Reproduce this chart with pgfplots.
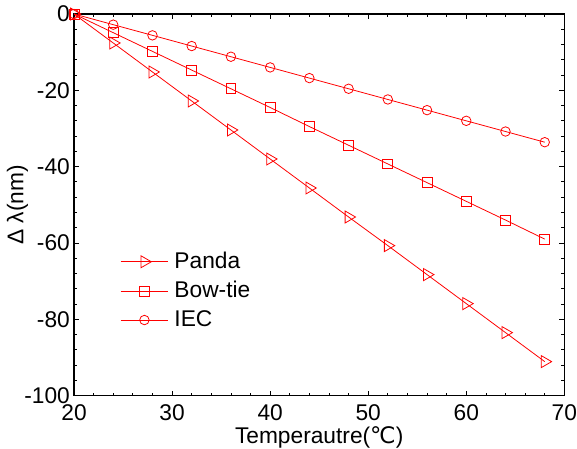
\documentclass[border=0pt]{standalone}
\usepackage{pgfplots}
\pgfplotsset{compat=1.18}
\usepackage{fontspec}
\setmainfont{Liberation Sans}
\newfontfamily\dejavu{DejaVu Sans}
\begin{document}
\fontsize{23bp}{27bp}\selectfont
\begin{tikzpicture}[x=1bp,y=1bp]
\begin{axis}[
  scale only axis,
  width=496bp, height=386bp,
  xmin=20, xmax=70, ymin=-100, ymax=0,
  xtick={20,30,...,70}, ytick={-100,-80,...,0},
  minor x tick num=4, minor y tick num=4,
  tick align=inside,
  major tick length=5bp, minor tick length=3bp,
  axis line style={line width=1.3bp},
  every tick/.style={black, line width=0.8bp},
  /pgf/number format/assume math mode=true,
  tick label style={font=\fontsize{23bp}{27bp}\selectfont},
  yticklabel style={inner xsep=0bp, inner ysep=6bp, xshift=-4bp},
  xticklabel style={inner sep=0bp, yshift=-9bp},
  label style={font=\fontsize{23bp}{27bp}\selectfont},
  xlabel={Temperautre({\dejavu ℃})},
  ylabel={Δ λ(nm)},
  xlabel style={inner sep=0bp, yshift=-6bp},
  ylabel style={inner xsep=0bp, inner ysep=7bp, yshift=-11bp},
  legend style={at={(axis cs:24.4,-61.5)}, anchor=north west, draw=none, fill=none,
    font=\fontsize{23bp}{27bp}\selectfont, row sep=7.5bp, nodes={inner xsep=6bp, inner ysep=1bp}},
  legend cell align=left,
  legend image code/.code={
    \draw[mark repeat=2,mark phase=2] plot coordinates {(0bp,0bp) (24bp,0bp) (48bp,0bp)};
  },
  every axis plot/.append style={red, line width=0.8bp, mark options={solid, line width=0.8bp}},
]
\addplot[red, mark=triangle, mark size=7bp, mark options={rotate=-90}] coordinates {
(20,0) (24,-7.6) (28,-15.2) (32,-22.8) (36,-30.4) (40,-38.0) (44,-45.6) (48,-53.2) (52,-60.7) (56,-68.3) (60,-75.9) (64,-83.5) (68,-91.1)};
\addlegendentry{Panda}
\addplot[red, mark=square, mark size=5bp] coordinates {
(20,0) (24,-4.9) (28,-9.8) (32,-14.7) (36,-19.6) (40,-24.5) (44,-29.5) (48,-34.4) (52,-39.3) (56,-44.2) (60,-49.1) (64,-54.0) (68,-59.0)};
\addlegendentry{Bow-tie}
\addplot[red, mark=o, mark size=4.8bp] coordinates {
(20,0) (24,-2.8) (28,-5.6) (32,-8.4) (36,-11.2) (40,-14.0) (44,-16.8) (48,-19.6) (52,-22.4) (56,-25.2) (60,-28.0) (64,-30.8) (68,-33.6)};
\addlegendentry{IEC}
\end{axis}
\end{tikzpicture}
\end{document}
